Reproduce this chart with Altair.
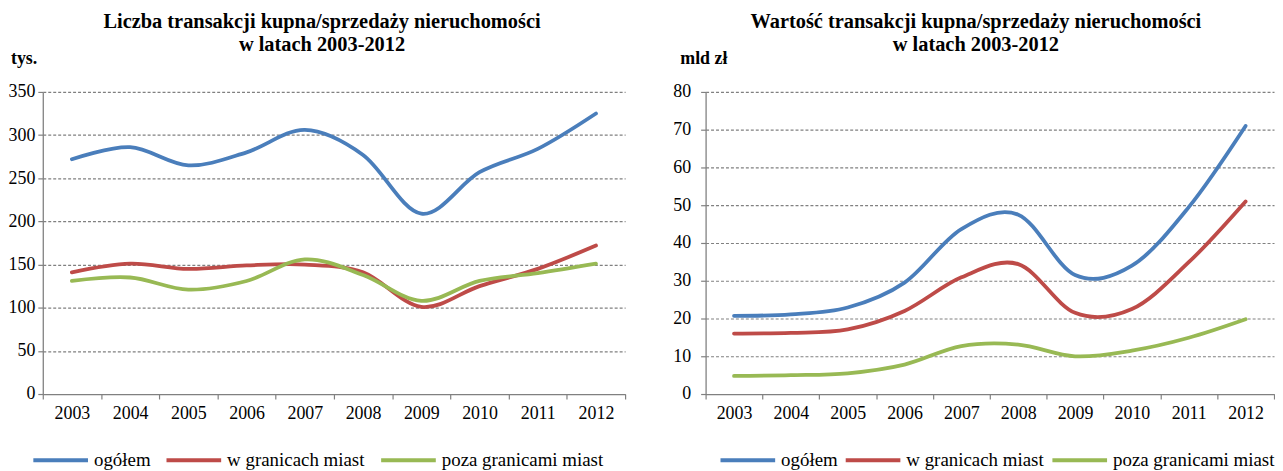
import altair as alt
import pandas as pd

years = ["2003", "2004", "2005", "2006", "2007", "2008", "2009", "2010", "2011", "2012"]
series_names = ["ogółem", "w granicach miast", "poza granicami miast"]
colors = ["#4A7EBB", "#BE4B48", "#98B954"]

# Liczba transakcji (tys.)
count_total = [272, 286, 265, 280, 306, 277, 209, 257, 284, 325]
count_city = [141, 151, 145, 149, 150, 141, 101, 125, 145, 172]
count_rural = [131, 135, 121, 131, 156, 138, 108, 131, 140, 151]

# Wartość transakcji (mld zł)
value_total = [20.7, 21.1, 22.9, 29.5, 43.7, 47.5, 31.5, 34.0, 49.5, 71.0]
value_city = [16.0, 16.2, 17.1, 22.0, 30.9, 34.4, 21.5, 22.5, 34.9, 51.0]
value_rural = [4.8, 5.0, 5.5, 7.8, 12.7, 13.1, 10.0, 11.5, 14.9, 19.8]

FONT = "Liberation Serif"
GRAY = "#808080"


def make_df(lists):
    rows = []
    for name, vals in zip(series_names, lists):
        for yr, v in zip(years, vals):
            rows.append({"year": yr, "series": name, "value": v})
    return pd.DataFrame(rows)


def panel(df, title_lines, unit, ymax, ystep, width, label_pad, legend_x, col_pad, title_dx, unit_x):
    return alt.Chart(df).mark_line(
        interpolate="cardinal", strokeWidth=3.8, strokeCap="round"
    ).encode(
        x=alt.X(
            "year:O", sort=years, bandPosition=0.5,
            scale=alt.Scale(type="band", paddingInner=0, paddingOuter=0),
            axis=alt.Axis(
                title=None, tickBand="extent", labelAngle=0, labelFont=FONT,
                labelFontSize=18, labelColor="black", labelPadding=6,
                tickSize=5, tickColor=GRAY, tickWidth=1.2, domainColor=GRAY,
                domainWidth=1.3, grid=False,
            ),
        ),
        y=alt.Y(
            "value:Q",
            scale=alt.Scale(domain=[0, ymax], nice=False, zero=True),
            axis=alt.Axis(
                values=list(range(0, ymax + 1, ystep)), title=unit, titleAngle=0,
                titleX=unit_x, titleY=-34, titleAlign="left", titleBaseline="middle",
                titleFont=FONT, titleFontSize=18, titleFontWeight="bold",
                titleColor="black", labelFont=FONT, labelFontSize=18,
                labelColor="black", labelPadding=label_pad, tickSize=5,
                tickColor=GRAY, tickWidth=1.2, domainColor=GRAY, domainWidth=1.3,
                grid=True, gridColor=GRAY, gridDash=[3, 2], gridWidth=1.2,
            ),
        ),
        color=alt.Color(
            "series:N", sort=series_names,
            scale=alt.Scale(domain=series_names, range=colors),
            legend=alt.Legend(
                title=None, orient="none", legendX=legend_x, legendY=341,
                direction="horizontal", symbolType="stroke", symbolSize=3025,
                symbolStrokeWidth=4, labelFont=FONT, labelFontSize=19,
                labelColor="black", labelOffset=4, columnPadding=col_pad,
                padding=0, labelLimit=400,
            ),
        ),
    ).properties(
        width=width,
        height=304,
        title=alt.TitleParams(
            text=title_lines, font=FONT, fontSize=20.5, fontWeight="bold",
            color="black", anchor="middle", frame="group", dx=title_dx,
            offset=-6, lineHeight=23,
        ),
    )


left = panel(
    make_df([count_total, count_city, count_rural]),
    ["Liczba transakcji kupna/sprzedaży nieruchomości", "w latach 2003-2012"],
    "tys.", 350, 50, 586, 3, -11.5, 8, -12, -32.5,
)
right = panel(
    make_df([value_total, value_city, value_rural]),
    ["Wartość transakcji kupna/sprzedaży nieruchomości", "w latach 2003-2012"],
    "mld zł", 80, 10, 572, 10, 13, 0, -14, -26,
)

chart = alt.hconcat(left, right, spacing=47).resolve_scale(
    color="independent"
).resolve_legend(color="independent").properties(
    padding={"left": 0, "top": 2, "right": 0, "bottom": 0}
).configure_view(strokeWidth=0)

chart.save("out.html", embed_options={"renderer": "svg", "actions": False})
